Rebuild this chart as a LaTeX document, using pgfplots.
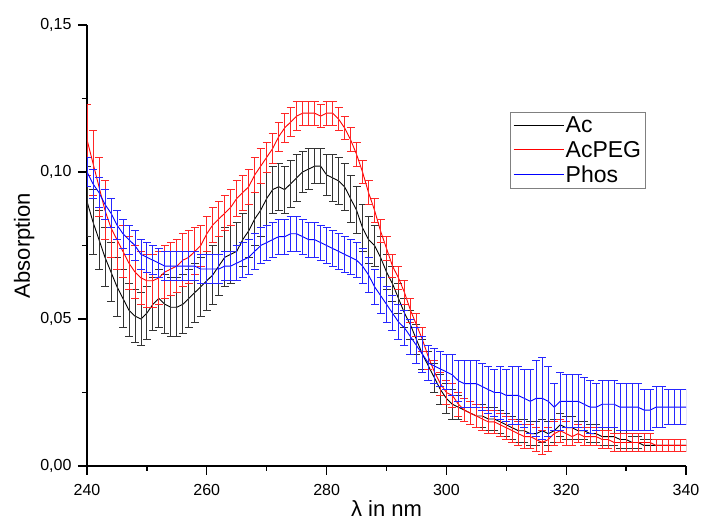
\documentclass[border=0pt]{standalone}
\usepackage{pgfplots}
\pgfplotsset{compat=1.18}
\usepackage{pgfplotstable}
\usepackage{fontspec}
\setmainfont{Liberation Sans}

\pgfplotstableread{
x y e
240 0.090 0.012
241 0.083 0.011
242 0.077 0.010
243 0.071 0.010
244 0.066 0.010
245 0.061 0.010
246 0.057 0.010
247 0.053 0.009
248 0.051 0.009
249 0.050 0.009
250 0.052 0.009
251 0.055 0.009
252 0.057 0.010
253 0.055 0.010
254 0.054 0.010
255 0.054 0.010
256 0.055 0.010
257 0.057 0.010
258 0.059 0.010
259 0.061 0.010
260 0.063 0.010
261 0.065 0.010
262 0.068 0.010
263 0.071 0.010
264 0.072 0.010
265 0.073 0.010
266 0.077 0.009
267 0.080 0.009
268 0.084 0.009
269 0.087 0.009
270 0.091 0.009
271 0.094 0.008
272 0.095 0.008
273 0.094 0.008
274 0.096 0.008
275 0.098 0.008
276 0.100 0.007
277 0.101 0.007
278 0.102 0.006
279 0.102 0.006
280 0.099 0.007
281 0.098 0.008
282 0.097 0.008
283 0.095 0.008
284 0.091 0.008
285 0.087 0.008
286 0.081 0.008
287 0.077 0.008
288 0.075 0.007
289 0.071 0.007
290 0.066 0.006
291 0.062 0.006
292 0.057 0.005
293 0.052 0.005
294 0.048 0.005
295 0.043 0.005
296 0.038 0.005
297 0.034 0.005
298 0.030 0.005
299 0.026 0.005
300 0.023 0.005
301 0.021 0.005
302 0.020 0.004
303 0.019 0.004
304 0.018 0.004
305 0.017 0.004
306 0.017 0.004
307 0.016 0.004
308 0.016 0.004
309 0.015 0.004
310 0.014 0.004
311 0.013 0.004
312 0.012 0.004
313 0.012 0.004
314 0.011 0.004
315 0.011 0.004
316 0.012 0.004
317 0.011 0.004
318 0.012 0.004
319 0.014 0.004
320 0.013 0.004
321 0.013 0.004
322 0.012 0.003
323 0.012 0.003
324 0.011 0.003
325 0.011 0.003
326 0.010 0.003
327 0.010 0.003
328 0.010 0.003
329 0.009 0.003
330 0.009 0.003
331 0.008 0.002
332 0.008 0.002
333 0.007 0.002
334 0.007 0.002
335 0.007 0.002
336 0.007 0.002
337 0.007 0.002
338 0.007 0.002
339 0.007 0.002
340 0.007 0.002
}\acdata

\pgfplotstableread{
x y e
240 0.111 0.012
241 0.103 0.011
242 0.095 0.010
243 0.087 0.010
244 0.081 0.010
245 0.077 0.010
246 0.073 0.009
247 0.069 0.009
248 0.066 0.009
249 0.064 0.009
250 0.063 0.009
251 0.063 0.009
252 0.064 0.009
253 0.066 0.009
254 0.067 0.009
255 0.068 0.009
256 0.070 0.009
257 0.071 0.009
258 0.073 0.008
259 0.075 0.007
260 0.079 0.006
261 0.082 0.006
262 0.084 0.006
263 0.086 0.006
264 0.088 0.006
265 0.091 0.006
266 0.093 0.006
267 0.095 0.006
268 0.099 0.006
269 0.102 0.006
270 0.105 0.005
271 0.108 0.005
272 0.112 0.005
273 0.115 0.005
274 0.117 0.005
275 0.119 0.005
276 0.120 0.004
277 0.120 0.004
278 0.120 0.004
279 0.119 0.004
280 0.120 0.004
281 0.120 0.004
282 0.118 0.004
283 0.115 0.004
284 0.111 0.004
285 0.106 0.004
286 0.100 0.004
287 0.093 0.004
288 0.087 0.004
289 0.080 0.004
290 0.074 0.004
291 0.068 0.004
292 0.064 0.004
293 0.059 0.004
294 0.053 0.004
295 0.048 0.004
296 0.043 0.004
297 0.037 0.004
298 0.032 0.004
299 0.028 0.004
300 0.025 0.004
301 0.024 0.004
302 0.021 0.004
303 0.019 0.004
304 0.018 0.004
305 0.017 0.004
306 0.016 0.004
307 0.015 0.004
308 0.015 0.004
309 0.014 0.004
310 0.013 0.004
311 0.012 0.004
312 0.011 0.004
313 0.010 0.004
314 0.010 0.004
315 0.009 0.004
316 0.008 0.004
317 0.009 0.004
318 0.011 0.004
319 0.012 0.004
320 0.011 0.004
321 0.010 0.003
322 0.011 0.003
323 0.010 0.003
324 0.010 0.003
325 0.010 0.003
326 0.009 0.003
327 0.009 0.003
328 0.008 0.003
329 0.008 0.003
330 0.008 0.003
331 0.008 0.003
332 0.008 0.003
333 0.008 0.003
334 0.008 0.003
335 0.007 0.002
336 0.007 0.002
337 0.007 0.002
338 0.007 0.002
339 0.007 0.002
340 0.007 0.002
}\acpegdata

\pgfplotstableread{
x y e
240 0.100 0.005
241 0.096 0.005
242 0.093 0.005
243 0.089 0.005
244 0.086 0.005
245 0.082 0.005
246 0.079 0.005
247 0.077 0.005
248 0.075 0.005
249 0.072 0.005
250 0.071 0.005
251 0.070 0.005
252 0.069 0.005
253 0.068 0.005
254 0.068 0.005
255 0.068 0.005
256 0.068 0.005
257 0.068 0.005
258 0.068 0.005
259 0.067 0.005
260 0.067 0.005
261 0.067 0.005
262 0.067 0.005
263 0.068 0.005
264 0.068 0.005
265 0.069 0.006
266 0.070 0.006
267 0.071 0.006
268 0.073 0.006
269 0.075 0.006
270 0.076 0.006
271 0.077 0.006
272 0.078 0.006
273 0.078 0.006
274 0.079 0.006
275 0.079 0.006
276 0.078 0.006
277 0.077 0.006
278 0.077 0.006
279 0.076 0.006
280 0.075 0.006
281 0.074 0.006
282 0.073 0.006
283 0.072 0.006
284 0.071 0.006
285 0.070 0.006
286 0.068 0.006
287 0.065 0.006
288 0.061 0.006
289 0.058 0.006
290 0.055 0.006
291 0.052 0.006
292 0.049 0.006
293 0.047 0.006
294 0.044 0.006
295 0.041 0.006
296 0.038 0.006
297 0.035 0.006
298 0.034 0.006
299 0.033 0.006
300 0.032 0.006
301 0.031 0.007
302 0.029 0.007
303 0.028 0.008
304 0.028 0.008
305 0.028 0.008
306 0.027 0.008
307 0.026 0.008
308 0.025 0.008
309 0.025 0.009
310 0.024 0.009
311 0.024 0.010
312 0.024 0.010
313 0.023 0.010
314 0.022 0.011
315 0.023 0.013
316 0.023 0.014
317 0.022 0.012
318 0.020 0.008
319 0.022 0.010
320 0.022 0.009
321 0.022 0.009
322 0.022 0.009
323 0.021 0.009
324 0.020 0.009
325 0.020 0.008
326 0.021 0.008
327 0.021 0.008
328 0.021 0.008
329 0.020 0.008
330 0.020 0.008
331 0.020 0.008
332 0.020 0.008
333 0.019 0.007
334 0.019 0.007
335 0.020 0.007
336 0.020 0.007
337 0.020 0.006
338 0.020 0.006
339 0.020 0.006
340 0.020 0.006
}\phosdata

\begin{document}
\begin{tikzpicture}
\begin{axis}[
  at={(0,0)}, anchor=south west,
  scale only axis,
  width=599pt, height=441pt,
  xmin=240, xmax=340, ymin=0, ymax=0.15,
  axis x line*=bottom,
  axis y line*=left,
  axis line style={line width=1.3pt,-},
  xtick={240,260,...,340},
  ytick={0,0.05,0.1,0.15},
  minor x tick num=1,
  minor y tick num=1,
  xtick align=outside,
  ytick align=outside,
  major tick length=9pt,
  minor tick length=5pt,
  every tick/.style={line width=1.3pt,black},
  scaled y ticks=false,
  yticklabel style={/pgf/number format/fixed, /pgf/number format/fixed zerofill, /pgf/number format/precision=2, /pgf/number format/use comma, xshift=-3pt},
  /pgf/number format/assume math mode=true,
  tick label style={font=\fontsize{16}{18}\selectfont},
  xticklabel style={yshift=-6pt},
  xlabel={λ in nm},
  ylabel={Absorption},
  label style={font=\fontsize{22}{24}\selectfont},
  xlabel style={yshift=2pt},
  ylabel style={yshift=-1pt},
  legend style={at={(0.706,0.803)}, anchor=north west, draw=gray, line width=0.8pt,
    font=\fontsize{23}{27}\selectfont, inner xsep=3pt, inner ysep=3pt, row sep=4pt,
    nodes={inner sep=1.5pt}},
  legend cell align=left,
  legend image code/.code={\draw[#1,line width=0.9pt] (0pt,0pt) -- (50pt,0pt);},
  error bars/y dir=both,
  error bars/y explicit,
]
\addplot[black, line width=0.9pt,
  error bars/error bar style={line width=0.8pt, black!80},
  error bars/error mark options={rotate=90, mark size=4pt, line width=0.8pt, black!80}]
  table[x=x, y=y, y error=e] {\acdata};
\addlegendentry{Ac}
\addplot[red, line width=0.9pt,
  error bars/error bar style={line width=0.8pt, red!85},
  error bars/error mark options={rotate=90, mark size=4pt, line width=0.8pt, red!85}]
  table[x=x, y=y, y error=e] {\acpegdata};
\addlegendentry{AcPEG}
\addplot[blue, line width=0.9pt,
  error bars/error bar style={line width=0.8pt, blue!85},
  error bars/error mark options={rotate=90, mark size=4pt, line width=0.8pt, blue!85}]
  table[x=x, y=y, y error=e] {\phosdata};
\addlegendentry{Phos}
\end{axis}
\pgfresetboundingbox
\path[use as bounding box] (-87pt,-58pt) rectangle (615pt,466pt);
\end{tikzpicture}
\end{document}
